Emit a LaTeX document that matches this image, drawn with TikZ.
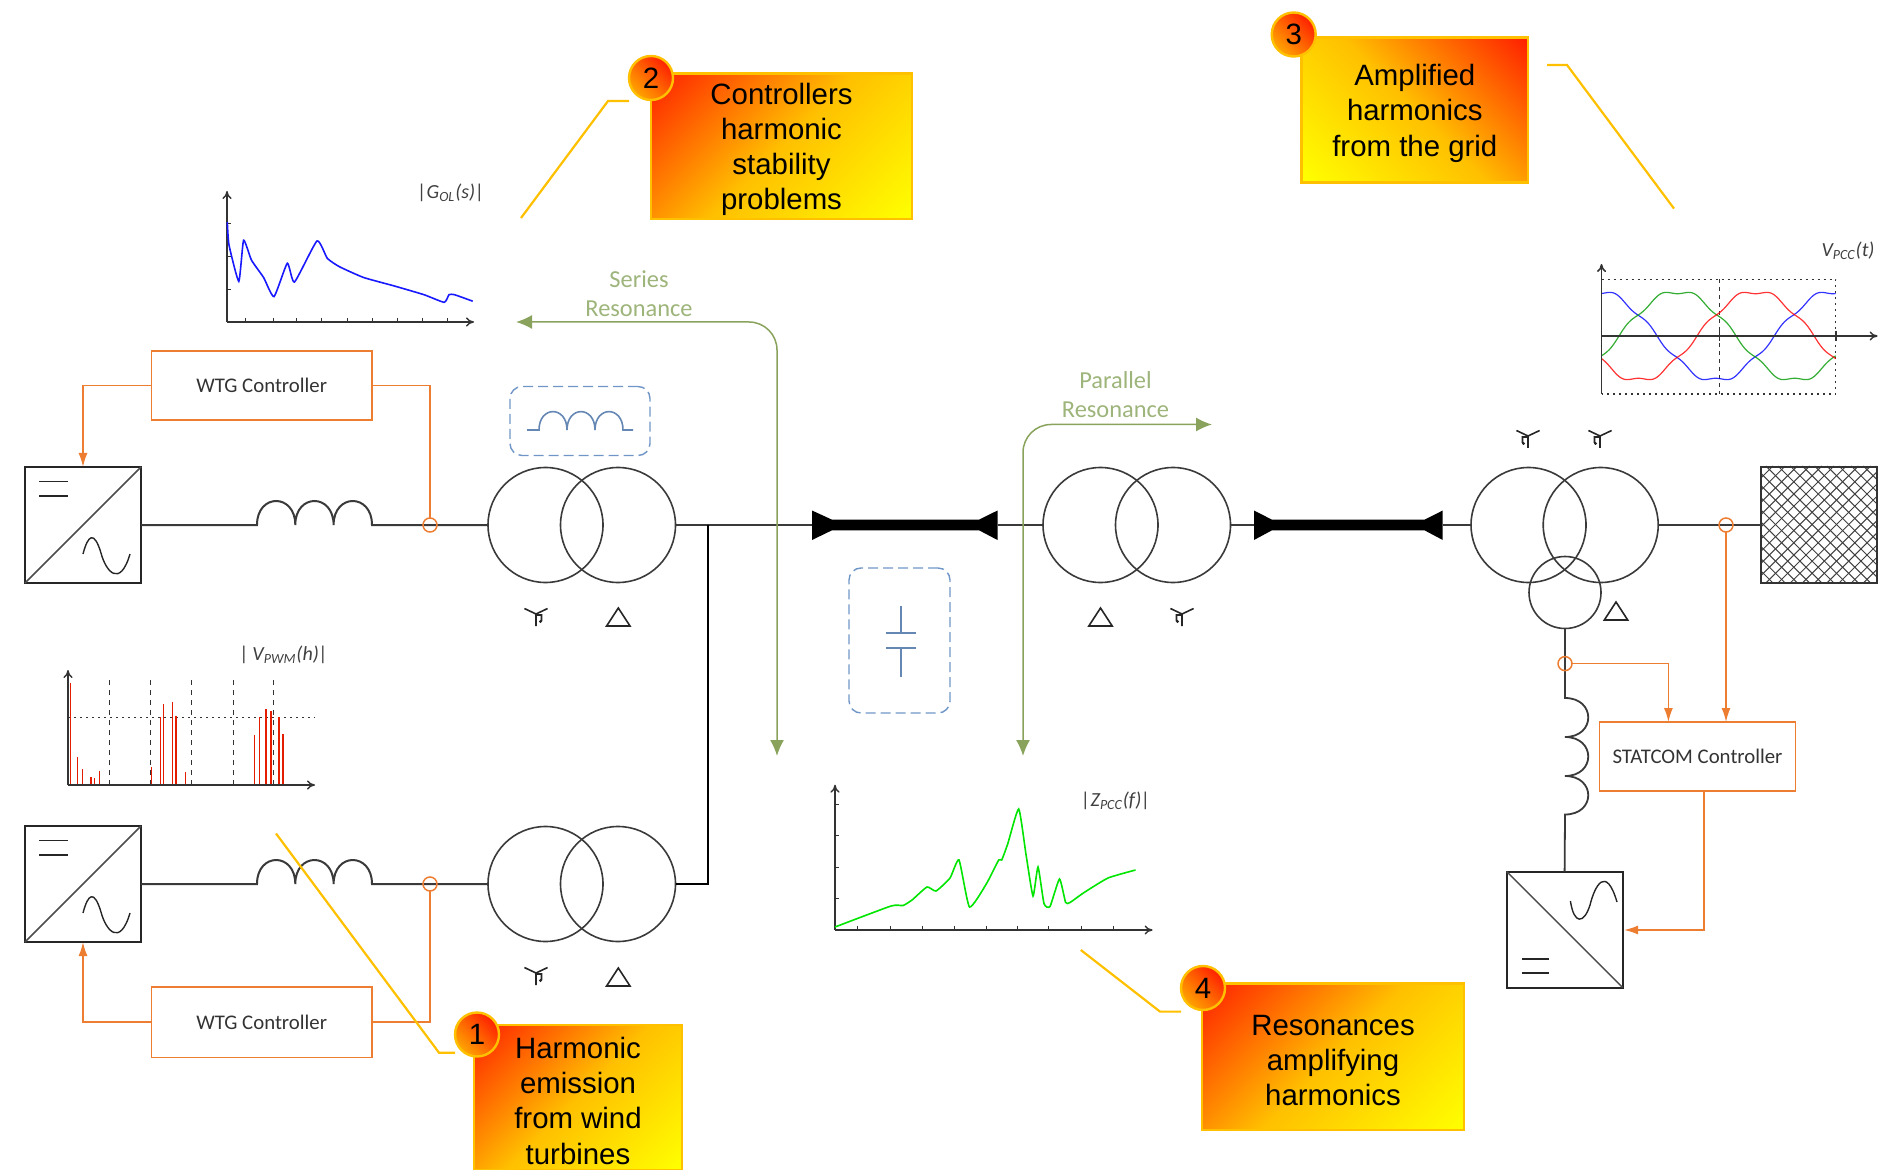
\documentclass[tikz,border=0pt]{standalone}
\usepackage{fontspec}
\setmainfont{Carlito}
\newfontfamily\arialf{Liberation Sans}
\usetikzlibrary{arrows.meta}
\def\pxu{0.5pt}
\newcommand\topfix{\rule{0pt}{14pt}}
\definecolor{wire}{HTML}{3A3A3A}
\definecolor{ctrl}{HTML}{ED7D31}
\definecolor{resg}{HTML}{8AA35C}
\definecolor{resgt}{HTML}{9DB47A}
\definecolor{dashb}{HTML}{7096C8}
\definecolor{gold}{HTML}{FFC000}
\definecolor{callred}{HTML}{FF2000}
\pgfdeclareverticalshading{callshade}{100bp}{color(0bp)=(yellow);color(15bp)=(yellow);color(50bp)=(gold);color(85bp)=(callred);color(100bp)=(callred)}
\pgfdeclareverticalshading{badgeshade}{100bp}{color(0bp)=(gold);color(15bp)=(gold);color(75bp)=(callred);color(100bp)=(callred)}
\tikzset{
  x=0.5pt,y=-0.5pt,
  wireline/.style={draw=wire,line width=1pt},
  conv/.style={draw=black!85,line width=1pt,minimum width=116*\pxu,minimum height=116*\pxu,inner sep=0pt,outer sep=0pt},
  xfmr/.style={circle,draw=wire,line width=0.8pt,minimum size=115*\pxu,inner sep=0pt,outer sep=0pt},
  ctrlbox/.style={draw=ctrl,line width=0.75pt,inner sep=0pt,outer sep=0pt,font=\fontsize{10.4}{12}\selectfont,text=black!80},
  ctrlline/.style={draw=ctrl,line width=0.75pt},
  ctrlarrow/.style={ctrlline,-{Latex[length=7pt,width=4.5pt]}},
  probe/.style={circle,draw=ctrl,line width=0.75pt,minimum size=14*\pxu,inner sep=0pt,outer sep=0pt},
  reslabel/.style={text=resgt,font=\fontsize{12.2}{14.8}\selectfont,align=center},
  dashbox/.style={draw=dashb,line width=0.7pt,dash pattern=on 5pt off 2.5pt,rounded corners=6pt,inner sep=0pt,outer sep=0pt},
  callout/.style={draw=gold,line width=1.2pt,shade,shading=callshade,inner sep=0pt,outer sep=0pt,align=center,text=black,font=\arialf\fontsize{14.7}{17.6}\selectfont},
  badge/.style={circle,draw=gold,line width=1.2pt,shade,shading=badgeshade,shading angle=-45,minimum size=44*\pxu,inner sep=0pt,outer sep=0pt,text=black,font=\arialf\fontsize{14.7}{17}\selectfont},
  leader/.style={draw=gold,line width=1.1pt},
  axisline/.style={draw=black!80,line width=0.7pt,-{To[length=4pt,width=4.5pt]}},
  tickline/.style={draw=black!80,line width=0.5pt},
  chartlabel/.style={text=black!75,font=\fontsize{10}{11}\selectfont\itshape,inner sep=0pt},
  pics/ysym/.style={code={
    \draw[draw=black!85,line width=0.8pt] (-11.6,-5.5)--(0,0)--(11.6,-5.5) (0,0)--(0,12) (0,1)--(5.5,1)--(5.5,7);
    \fill[black!85] (4.5,7.5) circle[radius=1.6];
  }},
  pics/dsym/.style={code={
    \draw[draw=black!85,line width=0.8pt] (-11.7,9)--(0,-9)--(11.7,9)--cycle;
  }},
  pics/convsym/.style={code={
    \draw[draw=black!70,line width=0.75pt] (-58,58)--(58,-58);
    \draw[draw=black!85,line width=0.7pt] (-43.6,-43.5)--(-15,-43.5) (-43.6,-29)--(-15,-29);
    \draw[draw=black!85,line width=0.7pt] (0,29) .. controls (5,10) and (11,5) .. (18,28) .. controls (23,47) and (37,63) .. (47,29);
  }}
}
\begin{document}
\begin{tikzpicture}
\useasboundingbox (0,0) rectangle (1904,1170);
% converters
\node[conv] (c1) at (83,525) {};
\node[conv] (c2) at (83,884) {};
\node[conv] (c3) at (1564.6,929.5) {};
\pic at (83,525) {convsym};
\pic at (83,884) {convsym};
\draw[draw=black!70,line width=0.75pt] (c3.north west)--(c3.south east);
\draw[draw=black!85,line width=0.7pt] (1522,959)--(1549,959) (1522,973)--(1549,973);
\draw[draw=black!85,line width=0.7pt] (1570.4,901) .. controls (1574,925) and (1584,924) .. (1590,905) .. controls (1595,885) and (1606,865) .. (1617,902);
% transformers
\node[xfmr] (t1a) at (545.5,525) {};
\node[xfmr] (t1b) at (618,525) {};
\node[xfmr] (t2a) at (545.5,884) {};
\node[xfmr] (t2b) at (618,884) {};
\node[xfmr] (t3a) at (1100.5,525) {};
\node[xfmr] (t3b) at (1173,525) {};
\node[xfmr] (t4a) at (1528.5,525) {};
\node[xfmr] (t4b) at (1600.7,525) {};
\node[xfmr,minimum size=72*\pxu] (t4c) at (1565,592.5) {};
% grid
\begin{scope}
\clip (1760.8,466) rectangle (1877,583);
\foreach \k in {0,1,...,20}{
  \draw[draw=black!75,line width=0.5pt] ({1760.8+\k*12.2-117},466)--({1760.8+\k*12.2},583);
  \draw[draw=black!75,line width=0.5pt] ({1760.8+\k*12.2},466)--({1760.8+\k*12.2-117},583);
}
\end{scope}
\node[draw=black!80,line width=1pt,minimum width=116*\pxu,minimum height=116*\pxu,inner sep=0pt,outer sep=0pt] (grid) at (1818.9,525) {};
% coils and main wires
\coordinate (l1a) at (257,525); \coordinate (l1b) at (372,525);
\coordinate (l2a) at (257,884); \coordinate (l2b) at (372,884);
\coordinate (j1) at (708,525);
\draw[wireline] (c1.east)--(l1a) .. controls +(0,-32) and +(0,-32) .. ++(38.3,0) .. controls +(0,-32) and +(0,-32) .. ++(38.3,0) .. controls +(0,-32) and +(0,-32) .. (l1b) -- (t1a.west);
\draw[wireline] (c2.east)--(l2a) .. controls +(0,-32) and +(0,-32) .. ++(38.3,0) .. controls +(0,-32) and +(0,-32) .. ++(38.3,0) .. controls +(0,-32) and +(0,-32) .. (l2b) -- (t2a.west);
\coordinate (b1a) at (812,525); \coordinate (b1b) at (997.5,525);
\coordinate (b2a) at (1254,525); \coordinate (b2b) at (1442.7,525);
\draw[wireline] (t1b.east)--(b1a);
\draw[wireline] (b1b)--(t3a.west);
\draw[wireline] (t3b.east)--(b2a);
\draw[wireline] (b2b)--(t4a.west);
\draw[wireline] (t4b.east)--(grid.west);
\draw[draw=black,line width=1pt] (t2b.east)-|(j1);
\fill[black] (812,510.5)--(832,519.7)--(979,519.7)--(997.5,510.5)--(997.5,540)--(979,530.3)--(832,530.3)--(812,540)--cycle;
\fill[black] (1254,510.5)--(1272,519.7)--(1424.5,519.7)--(1442.7,510.5)--(1442.7,540)--(1424.5,530.3)--(1272,530.3)--(1254,540)--cycle;
% STATCOM branch
\coordinate (v1) at (1565,698); \coordinate (v2) at (1565,814.5);
\draw[wireline,line width=0.9pt] (t4c.south)--(v1) .. controls +(31,0) and +(31,0) .. ++(0,39) .. controls +(31,0) and +(31,0) .. ++(0,39) .. controls +(31,0) and +(31,0) .. (v2) -- (c3.north);
% dashed boxes
\node[dashbox,minimum width=140*\pxu,minimum height=69*\pxu] (lbox) at (580,421) {};
\node[dashbox,minimum width=101*\pxu,minimum height=145*\pxu] (cbox) at (899.5,640.5) {};
\draw[draw=dashb!90!black,line width=0.8pt] (527,430)--(539,430) .. controls +(0,-24.5) and +(0,-24.5) .. ++(28,0) .. controls +(0,-24.5) and +(0,-24.5) .. ++(28,0) .. controls +(0,-24.5) and +(0,-24.5) .. ++(28,0) -- (633,430);
\draw[draw=dashb!90!black,line width=0.8pt] (901,606)--(901,633) (886,633)--(916,633) (886,648)--(916,648) (901,648)--(901,677);
% symbols
\pic at (536,614) {ysym};
\pic at (618.3,617) {dsym};
\pic at (536,973) {ysym};
\pic at (618.3,977) {dsym};
\pic at (1100.5,617) {dsym};
\pic[xscale=-1] at (1182,614) {ysym};
\pic[xscale=-1] at (1528,436) {ysym};
\pic[xscale=-1] at (1600,436) {ysym};
\pic at (1616,611) {dsym};
% controllers
\node[ctrlbox,minimum width=220.5*\pxu,minimum height=69*\pxu] (w1) at (261.7,385.5) {WTG Controller};
\node[ctrlbox,minimum width=220.5*\pxu,minimum height=70.5*\pxu] (w2) at (261.7,1022.2) {WTG Controller};
\node[ctrlbox,minimum width=196*\pxu,minimum height=69*\pxu] (sc) at (1697.5,756.5) {STATCOM Controller};
\node[probe] (p1) at (430,525) {};
\node[probe] (p2) at (430,884) {};
\node[probe] (p3) at (1726,525) {};
\node[probe] (p4) at (1565,663.6) {};
\draw[ctrlarrow] (w1.west)-|(c1.north);
\draw[ctrlline] (w1.east)-|(p1.north);
\draw[ctrlarrow] (w2.west)-|(c2.south);
\draw[ctrlline] (w2.east)-|(p2.south);
\draw[ctrlarrow] (p3.south)--(sc.north-|p3.south);
\coordinate (p4t) at (1668.4,722);
\draw[ctrlarrow] (p4.east)-|(p4t);
\coordinate (sb) at (1704,791);
\coordinate (c3r) at (1624,930);
\draw[ctrlarrow] (sb)|-(c3r);
% resonance arrows
\coordinate (sra) at (777,756); \coordinate (srb) at (516,322);
\coordinate (pra) at (1023,756); \coordinate (prb) at (1212,424.5);
\draw[draw=resg,line width=0.75pt,rounded corners=14pt,{Latex[length=8pt,width=7pt]}-{Latex[length=8pt,width=7pt]}] (srb)-|(sra);
\draw[draw=resg,line width=0.75pt,rounded corners=14pt,{Latex[length=8pt,width=7pt]}-{Latex[length=8pt,width=7pt]}] (pra)|-(prb);
\node[reslabel] (sl) at (639,293.5) {Series\\Resonance};
\node[reslabel] (pl) at (1115.5,394.7) {Parallel\\Resonance};
% chart G
\coordinate (g0) at (227,322); \coordinate (gx) at (474,322); \coordinate (gy) at (227,191);
\foreach \t in {245,273,296,321,347,372,397,422,447} \draw[tickline] (\t,322)--(\t,318);
\foreach \t in {224,257,290} \draw[tickline] (227,\t)--(231,\t);
\draw[axisline] (g0)--(gx);
\draw[axisline] (g0)--(gy);
\draw[draw=blue!90!white,line width=0.8pt,smooth,tension=0.3] plot coordinates {(227.3,222)(229,245)(238.8,281.3)(243.6,240.3)(251.5,260.2)(263.6,277.5)(274,296.6)(287.3,263.3)(294.5,282)(317,241)(327.3,258.3)(339.4,266.7)(363.6,277.5)(394,285.9)(424,294.7)(444.2,302.3)(449,294.7)(454.5,294.7)(472.7,301.2)};
\node[chartlabel] (gl) at (451,192.5) {|G\textsubscript{OL}(s)|};
% chart V_PWM
\coordinate (v0) at (68,785); \coordinate (vx) at (315,785); \coordinate (vy) at (68,670);
\foreach \t in {109,150,191.5,233,273} \draw[draw=black!80,line width=0.5pt,dash pattern=on 2.5pt off 2.5pt] (\t,680)--(\t,785);
\draw[draw=black!80,line width=0.6pt,dash pattern=on 1pt off 2pt] (68,717.5)--(315,717.5);
\foreach \p/\q in {70.3/683,77.6/757,82.4/769,91/777,94.5/778,99.4/771,151.5/766.5,160.6/717,163.6/703.6,172.7/701.8,175.8/716.4,185.5/771.6,254.5/735.3,259.4/717,266/709,271/711,278.8/717,283/733.8}
  \draw[draw=red!75!orange!90!black,line width=0.7pt] (\p,785)--(\p,\q);
\draw[axisline] (v0)--(vx);
\draw[axisline] (v0)--(vy);
\node[chartlabel] (vl) at (284,655) {|\,V\textsubscript{PWM}(h)|};
% chart Z
\coordinate (z0) at (835,930); \coordinate (zx) at (1152.6,930); \coordinate (zy) at (835,784.7);
\foreach \t in {857.6,890,922,954,986.5,1017,1048.5,1081,1113} \draw[tickline] (\t,930)--(\t,926);
\foreach \t in {804,835.6,867,898} \draw[tickline] (835,\t)--(839,\t);
\draw[axisline] (z0)--(zx);
\draw[axisline] (z0)--(zy);
\draw[draw=green!90!black,line width=0.8pt,smooth,tension=0.3] plot coordinates {(835,927)(891,906)(903,905.5)(912,900)(927,887)(936,891)(950,878)(959,860)(969.5,907)(986.5,883.6)(998.7,860)(1001.7,860)(1007.8,843.6)(1018.7,809)(1026,854.5)(1033,896)(1038,867)(1044,903.6)(1050,906.5)(1059.5,879)(1065.6,902.5)(1070,902.5)(1083.8,892.7)(1108,878)(1135.5,870)};
\node[chartlabel] (zl) at (1116,800.7) {|Z\textsubscript{PCC}(f)|};
% chart V_PCC
\coordinate (u0) at (1601.5,394); \coordinate (uy) at (1601.5,264); \coordinate (u1) at (1601.5,336); \coordinate (ux) at (1877.6,336);
\draw[draw=black!80,line width=0.6pt,dash pattern=on 1pt off 2pt] (1601.5,279.4)--(1835.7,279.4)--(1835.7,394)--(1601.5,394);
\draw[draw=black!80,line width=0.5pt,dash pattern=on 2pt off 2pt] (1719.5,279.4)--(1719.5,394);
\foreach \g/\col in {1774.2/blue,1619/green!60!black,1697/red}{
  \draw[draw=\col,line width=0.6pt,opacity=.8,domain=1601.5:1835.7,samples=120,smooth] plot (\x,{336-44.5*(sin((\x-\g)*1.5372)+0.05*sin(7*(\x-\g)*1.5372))});
}
\draw[axisline] (u1)--(ux);
\draw[axisline,line width=0.8pt] (u0)--(uy);
\draw[tickline,line width=0.8pt] (1719.5,331)--(1719.5,341) (1835.7,331)--(1835.7,341);
\node[chartlabel] (ul) at (1848,250.7) {V\textsubscript{PCC}(t)};
% callouts
\coordinate (ld1a) at (276,833.5); \coordinate (ld1b) at (439,1052.7);
\coordinate (ld2a) at (521,218); \coordinate (ld2b) at (608,101);
\coordinate (ld3a) at (1674,208.6); \coordinate (ld3b) at (1567,65); \coordinate (ld3c) at (1547,65);
\coordinate (ld4a) at (1080.8,950); \coordinate (ld4b) at (1160,1011.6);
\node[callout,shading angle=45,minimum width=208*\pxu,minimum height=145*\pxu] (b1) at (578,1097.5) {\topfix Harmonic\\emission\\from wind\\turbines};
\node[callout,shading angle=45,minimum width=261*\pxu,minimum height=145.5*\pxu] (b2) at (781.5,146.2) {\topfix Controllers\\harmonic\\stability\\problems};
\node[callout,shading angle=-45,minimum width=226.4*\pxu,minimum height=145*\pxu] (b3) at (1414.8,110) {\topfix Amplified\\harmonics\\from the grid};
\node[callout,shading angle=45,minimum width=262*\pxu,minimum height=146.4*\pxu] (b4) at (1333,1056.8) {\topfix Resonances\\amplifying\\harmonics};
\node[badge] (n1) at (477,1034.5) {1};
\node[badge] (n2) at (651,78) {2};
\node[badge] (n3) at (1293.7,34.5) {3};
\node[badge] (n4) at (1203,988) {4};
\draw[leader] (ld1a)--(ld1b)--(n1.west|-ld1b);
\draw[leader] (ld2a)--(ld2b)--(n2.west|-ld2b);
\draw[leader] (ld3a)--(ld3b)--(ld3c);
\draw[leader] (ld4a)--(ld4b)--(n4.west|-ld4b);
\end{tikzpicture}
\end{document}
